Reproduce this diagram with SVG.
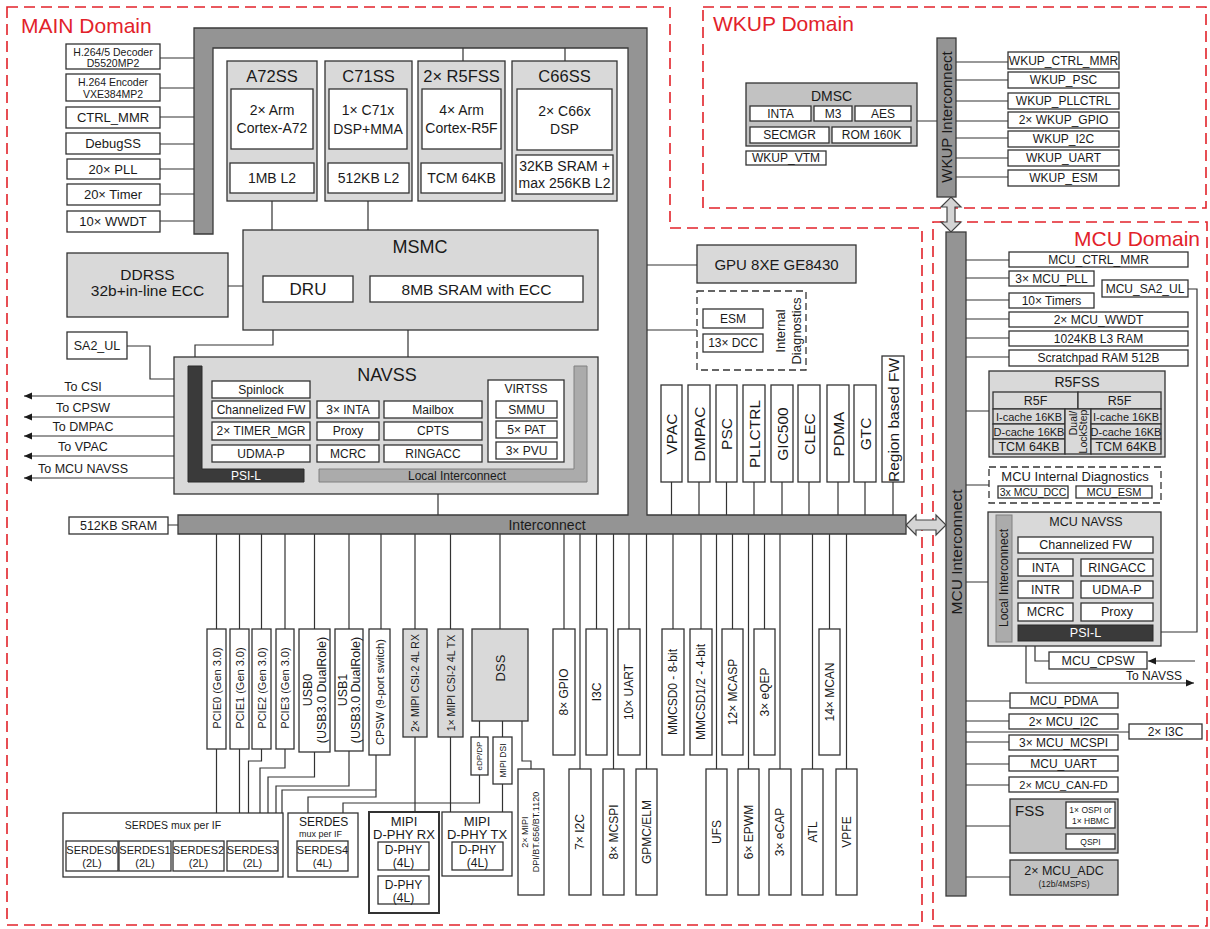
<svg xmlns="http://www.w3.org/2000/svg" width="1210" height="929" viewBox="0 0 1210 929">
<defs>
<style>
text{font-family:"Liberation Sans",Arial,sans-serif;fill:#1a1a1a;text-anchor:middle;dominant-baseline:central;font-size:12px}
.w{fill:#fff;stroke:#333;stroke-width:1.3}
.g{fill:#d9d9d9;stroke:#333;stroke-width:1.3}
.m{fill:#c2c2c2;stroke:#333;stroke-width:1.3}
.d{fill:#949494;stroke:#3a3a3a;stroke-width:1.3}
.k{fill:#3a3a3a;stroke:#2a2a2a;stroke-width:1}
.li{fill:#ababab;stroke:#808080;stroke-width:1}
.dom{fill:none;stroke:#e2222a;stroke-width:1.6;stroke-dasharray:11 6}
.dl{fill:none;stroke:#333;stroke-width:1.3;stroke-dasharray:7 4}
.ln{fill:none;stroke:#333;stroke-width:1.2}
.arr{fill:#d4d4d4;stroke:#444;stroke-width:1.2}
.dt{fill:#e2222a;font-size:21px;text-anchor:start}
.wt{fill:#fff}
.t10{font-size:10.5px}.t11{font-size:11px}.t12{font-size:12.5px}.t13{font-size:13px}.t14{font-size:14px}.t15{font-size:15px}.t16{font-size:16.5px}.t18{font-size:18px}.t9{font-size:9px}.t8{font-size:8.5px}
</style>
<marker id="ah" viewBox="0 0 10 10" refX="10" refY="5" markerUnits="userSpaceOnUse" markerWidth="9" markerHeight="8" orient="auto"><path d="M0,0.5 L10,5 L0,9.5 Z" fill="#1a1a1a"/></marker>
</defs>

<!-- Domains -->
<g id="domains">
<path class="dom" d="M7,7 H670 V228 H922 V925 H7 Z"/>
<rect class="dom" x="703" y="7" width="503" height="201"/>
<rect class="dom" x="933" y="222" width="274" height="704"/>
<text class="dt" x="21" y="25">MAIN Domain</text>
<text class="dt" x="713" y="23">WKUP Domain</text>
<text class="dt" x="1074" y="238">MCU Domain</text>
</g>

<!-- Connectors -->
<g id="connectors">
<path class="ln" d="M160,58 H194 M160,88 H194 M160,117 H194 M160,144 H194 M160,169 H194 M160,194 H194 M160,221 H194"/>
<path class="ln" d="M463,48 V61 M565,48 V61 M272,201 V230 M368,201 V230"/>
<path class="ln" d="M228,286 H243 M408,330 V357 M273,330 V345 H195 V366 M127,346 H150 V379 H188"/>
<path class="ln" d="M304,476 H319 M438,482 V515 M168,525 H178"/>
<path class="ln" marker-end="url(#ah)" d="M188,396 H24"/>
<path class="ln" marker-end="url(#ah)" d="M188,417 H24"/>
<path class="ln" marker-end="url(#ah)" d="M188,436 H24"/>
<path class="ln" marker-end="url(#ah)" d="M188,456 H24"/>
<path class="ln" marker-end="url(#ah)" d="M188,478 H24"/>
<path class="ln" d="M647,265 H697 M647,330 H697"/>
<path class="ln" d="M671.5,482 V515 M699,482 V515 M726.5,482 V515 M754,482 V515 M782,482 V515 M809,482 V515 M838,482 V515 M865,482 V515 M893,482 V515"/>
<path class="ln" d="M216.5,534 V629 M239.5,534 V629 M261.5,534 V629 M285,534 V629 M314.5,534 V629 M349,534 V629 M381,534 V629 M415,534 V629 M450.5,534 V629 M500,534 V629 M564,534 V629 M596.5,534 V629 M580,534 V769 M613.5,534 V769 M629,534 V629 M646.5,534 V769 M673,534 V629 M701,534 V629 M716.5,534 V769 M732.5,534 V629 M748.5,534 V769 M764.5,534 V629 M780,534 V769 M812.5,534 V769 M829.5,534 V629 M846.5,534 V769"/>
<path class="ln" d="M216.5,749 V813 M239.5,749 V813 M261.5,749 V761 H248.5 V813 M285,749 V768 H260 V813 M314.5,752 V777 H268 V813 M349,751 V786 H276 V813 M376,755 V797 H308 V813 M376,790 H282 V813"/>
<path class="ln" d="M415,737 V812 M450.5,737 V812 M502.5,784 V812 M479.5,775 V803 H343 V813 M479.5,721 V737 M502.5,721 V737 M522,721 V761 H531 V769"/>
<path class="ln" d="M917,121 H937 M956,62 H1008 M956,80 H1008 M956,101 H1008 M956,121 H1008 M956,138 H1008 M956,158 H1008 M956,177 H1008"/>
<path class="ln" d="M966,260 H1009 M966,278 H1009 M966,300 H1009 M966,319 H1009 M966,338 H1009 M966,357 H1009 M966,411 H989 M966,485 H989 M966,582 H996 M966,701 H1010 M966,721 H1009 M966,732 H1129 M966,742 H1009 M966,764 H1009 M966,785 H1009 M966,826 H1010 M966,877 H1010"/>
<path class="ln" d="M1188,289 H1197 V632 H1153 M1035,641 V661 H1049"/>
<path class="ln" marker-end="url(#ah)" d="M1195,661 H1148"/>
<path class="ln" marker-end="url(#ah)" d="M1026,641 V683 H1194"/>
<path class="arr" d="M906,525 L916,515 L916,520 L936,520 L936,515 L946,525 L936,535 L936,530 L916,530 L916,535 Z"/>
<path class="arr" d="M951,197 L961,207 L955,207 L955,222 L961,222 L951,232 L941,222 L947,222 L947,207 L941,207 Z"/>
</g>

<!-- Main interconnect frame -->
<g id="main-interconnect">
<path class="d" d="M194,28 H647 V515 H906 V534 H178 V515 H628 V48 H213 V234 H194 Z"/>
<text class="t14" x="547" y="525">Interconnect</text>
</g>

<!-- Left peripherals -->
<g id="dec"><rect class="w" x="66" y="44" width="94" height="25"/><text class="t10" x="113" y="51.5">H.264/5 Decoder</text><text class="t10" x="113" y="63">D5520MP2</text></g>
<g id="enc"><rect class="w" x="66" y="74" width="94" height="27"/><text class="t10" x="113" y="82">H.264 Encoder</text><text class="t10" x="113" y="94">VXE384MP2</text></g>
<g id="ctrl-mmr"><rect class="w" x="66" y="107" width="94" height="21"/><text class="t13" x="113" y="117.5">CTRL_MMR</text></g>
<g id="debugss"><rect class="w" x="66" y="133" width="94" height="21"/><text class="t13" x="113" y="143.5">DebugSS</text></g>
<g id="pll"><rect class="w" x="67" y="159" width="93" height="20"/><text class="t13" x="113" y="169">20× PLL</text></g>
<g id="timer"><rect class="w" x="67" y="184" width="93" height="21"/><text class="t13" x="113" y="194.5">20× Timer</text></g>
<g id="wwdt"><rect class="w" x="67" y="211" width="93" height="21"/><text class="t13" x="113" y="221.5">10× WWDT</text></g>

<!-- Cores -->
<g id="a72ss"><rect class="g" x="227" y="61" width="90" height="140"/><text class="t16" x="272" y="76">A72SS</text>
<rect class="w" x="231" y="89" width="82" height="60"/><text class="t14" x="272" y="110">2× Arm</text><text class="t14" x="272" y="128">Cortex-A72</text>
<rect class="w" x="230" y="163" width="84" height="30"/><text class="t14" x="272" y="178">1MB L2</text></g>
<g id="c71ss"><rect class="g" x="325" y="61" width="87" height="140"/><text class="t16" x="368.5" y="76">C71SS</text>
<rect class="w" x="329" y="89" width="78" height="60"/><text class="t14" x="368" y="110">1× C71x</text><text class="t14" x="368" y="129">DSP+MMA</text>
<rect class="w" x="328" y="163" width="81" height="30"/><text class="t14" x="368.5" y="178">512KB L2</text></g>
<g id="r5fss"><rect class="g" x="418" y="61" width="87" height="140"/><text class="t16" x="461.5" y="76">2× R5FSS</text>
<rect class="w" x="422" y="89" width="79" height="60"/><text class="t14" x="461.5" y="110">4× Arm</text><text class="t14" x="461.5" y="128">Cortex-R5F</text>
<rect class="w" x="421" y="163" width="81" height="30"/><text class="t14" x="461.5" y="178">TCM 64KB</text></g>
<g id="c66ss"><rect class="g" x="512" y="61" width="105" height="140"/><text class="t16" x="564.5" y="76">C66SS</text>
<rect class="w" x="517" y="89" width="95" height="61"/><text class="t14" x="564.5" y="111">2× C66x</text><text class="t14" x="564.5" y="129">DSP</text>
<rect class="w" x="516" y="155" width="97" height="39"/><text class="t14" x="564.5" y="166">32KB SRAM +</text><text class="t14" x="564.5" y="183">max 256KB L2</text></g>

<g id="msmc"><rect class="g" x="243" y="230" width="355" height="100"/><text class="t18" x="420" y="247">MSMC</text>
<rect class="w" x="263" y="276" width="90" height="26"/><text x="308" y="289" style="font-size:17px">DRU</text>
<rect class="w" x="370" y="276" width="213" height="26"/><text x="476.5" y="289" style="font-size:15.5px">8MB SRAM with ECC</text></g>

<g id="ddrss"><rect class="g" x="67" y="253" width="161" height="64"/><text x="147.5" y="274" style="font-size:15.5px">DDRSS</text><text x="147.5" y="290" style="font-size:15.5px">32b+in-line ECC</text></g>
<g id="sa2ul"><rect class="w" x="67" y="332" width="60" height="27"/><text class="t12" x="97" y="345.5">SA2_UL</text></g>

<g id="navss"><rect class="g" x="174" y="357" width="424" height="137"/><text class="t18" x="387" y="375">NAVSS</text>
<path class="k" d="M188,366 H202 V469 H304 V482 H188 Z"/><text class="wt" x="246" y="476">PSI-L</text>
<path class="li" d="M574,366 H587 V482 H319 V469 H574 Z"/><text x="457" y="476">Local Interconnect</text>
<rect class="w" x="212" y="381" width="98" height="17"/><text x="261" y="389.5">Spinlock</text>
<rect class="w" x="212" y="401" width="98" height="17"/><text x="261" y="409.5">Channelized FW</text>
<rect class="w" x="212" y="422" width="98" height="18"/><text x="261" y="431">2× TIMER_MGR</text>
<rect class="w" x="212" y="445" width="98" height="17"/><text x="261" y="453.5">UDMA-P</text>
<rect class="w" x="317" y="401" width="62" height="17"/><text x="348" y="409.5">3× INTA</text>
<rect class="w" x="317" y="422" width="62" height="18"/><text x="348" y="431">Proxy</text>
<rect class="w" x="317" y="445" width="62" height="17"/><text x="348" y="453.5">MCRC</text>
<rect class="w" x="384" y="401" width="98" height="17"/><text x="433" y="409.5">Mailbox</text>
<rect class="w" x="384" y="422" width="98" height="18"/><text x="433" y="431">CPTS</text>
<rect class="w" x="384" y="445" width="98" height="17"/><text x="433" y="453.5">RINGACC</text>
<rect class="w" x="488" y="380" width="76" height="82"/><text x="526" y="389">VIRTSS</text>
<rect class="w" x="496" y="401" width="61" height="17"/><text x="526.5" y="409.5">SMMU</text>
<rect class="w" x="496" y="421" width="61" height="17"/><text x="526.5" y="429.5">5× PAT</text>
<rect class="w" x="496" y="442" width="61" height="17"/><text x="526.5" y="450.5">3× PVU</text>
</g>

<g id="to-labels">
<text class="t12" x="83" y="387">To CSI</text>
<text class="t12" x="83" y="408">To CPSW</text>
<text class="t12" x="83" y="427">To DMPAC</text>
<text class="t12" x="83" y="447">To VPAC</text>
<text class="t12" x="83" y="469">To MCU NAVSS</text>
</g>

<g id="sram512"><rect class="w" x="69" y="517" width="99" height="17"/><text class="t12" x="118.5" y="525.5">512KB SRAM</text></g>

<g id="gpu"><rect class="g" x="697" y="245" width="159" height="38"/><text class="t15" x="776.5" y="264">GPU 8XE GE8430</text></g>
<g id="int-diag"><rect class="dl" x="697" y="291" width="109" height="79"/>
<rect class="w" x="703" y="309" width="60" height="19"/><text x="733" y="318.5">ESM</text>
<rect class="w" x="703" y="334" width="60" height="18"/><text x="733" y="343">13× DCC</text>
<text class="t13" x="780" y="331" transform="rotate(-90 780 331)">Internal</text>
<text class="t13" x="796" y="331" transform="rotate(-90 796 331)">Diagnostics</text></g>

<g id="vpac"><rect class="w" x="661" y="385" width="21" height="97"/><text style="font-size:15.5px" x="671.5" y="434" transform="rotate(-90 671.5 434)">VPAC</text></g>
<g id="dmpac"><rect class="w" x="688" y="385" width="22" height="97"/><text style="font-size:15.5px" x="699" y="434" transform="rotate(-90 699 434)">DMPAC</text></g>
<g id="psc"><rect class="w" x="716" y="385" width="21" height="97"/><text style="font-size:15.5px" x="726.5" y="434" transform="rotate(-90 726.5 434)">PSC</text></g>
<g id="pllctrl"><rect class="w" x="743" y="385" width="22" height="97"/><text style="font-size:15.5px" x="754" y="434" transform="rotate(-90 754 434)">PLLCTRL</text></g>
<g id="gic500"><rect class="w" x="771" y="385" width="22" height="97"/><text style="font-size:15.5px" x="782" y="434" transform="rotate(-90 782 434)">GIC500</text></g>
<g id="clec"><rect class="w" x="798" y="385" width="22" height="97"/><text style="font-size:15.5px" x="809" y="434" transform="rotate(-90 809 434)">CLEC</text></g>
<g id="pdma"><rect class="w" x="827" y="385" width="22" height="97"/><text style="font-size:15.5px" x="838" y="434" transform="rotate(-90 838 434)">PDMA</text></g>
<g id="gtc"><rect class="w" x="854" y="385" width="22" height="97"/><text style="font-size:15.5px" x="865" y="434" transform="rotate(-90 865 434)">GTC</text></g>
<g id="region-fw"><rect class="w" x="882" y="356" width="22" height="126"/><text style="font-size:15.5px" x="893" y="420" transform="rotate(-90 893 420)">Region based FW</text></g>

<!-- Bottom peripherals -->
<g id="pcie0"><rect class="w" x="207" y="629" width="19" height="120"/><text class="t11" x="216.5" y="688" transform="rotate(-90 216.5 688)">PCIE0 (Gen 3.0)</text></g>
<g id="pcie1"><rect class="w" x="230" y="629" width="19" height="120"/><text class="t11" x="239.5" y="688" transform="rotate(-90 239.5 688)">PCIE1 (Gen 3.0)</text></g>
<g id="pcie2"><rect class="w" x="252" y="629" width="19" height="120"/><text class="t11" x="261.5" y="688" transform="rotate(-90 261.5 688)">PCIE2 (Gen 3.0)</text></g>
<g id="pcie3"><rect class="w" x="276" y="629" width="18" height="120"/><text class="t11" x="285" y="688" transform="rotate(-90 285 688)">PCIE3 (Gen 3.0)</text></g>
<g id="usb0"><rect class="w" x="299" y="629" width="31" height="123"/><text class="t12" x="308" y="690" transform="rotate(-90 308 690)">USB0</text><text class="t12" x="322" y="690" transform="rotate(-90 322 690)">(USB3.0 DualRole)</text></g>
<g id="usb1"><rect class="w" x="335" y="629" width="28" height="122"/><text class="t12" x="343" y="690" transform="rotate(-90 343 690)">USB1</text><text class="t12" x="356" y="690" transform="rotate(-90 356 690)">(USB3.0 DualRole)</text></g>
<g id="cpsw"><rect class="w" x="369" y="629" width="21" height="126"/><text class="t11" x="379.5" y="692" transform="rotate(-90 379.5 692)">CPSW (9-port switch)</text></g>
<g id="csi-rx"><rect class="g" x="403" y="629" width="24" height="108"/><text class="t10" x="415" y="683" transform="rotate(-90 415 683)">2× MIPI CSI-2 4L RX</text></g>
<g id="csi-tx"><rect class="g" x="438" y="629" width="25" height="108"/><text class="t10" x="450.5" y="683" transform="rotate(-90 450.5 683)">1× MIPI CSI-2 4L TX</text></g>
<g id="dss"><rect class="g" x="472" y="629" width="56" height="92"/><text class="t13" x="500" y="668" transform="rotate(-90 500 668)">DSS</text></g>
<g id="edp"><rect class="w" x="471" y="737" width="17" height="38"/><text style="font-size:8px" x="479.5" y="756" transform="rotate(-90 479.5 756)">eDP/DP</text></g>
<g id="dsi"><rect class="w" x="493" y="737" width="19" height="47"/><text class="t8" x="502.5" y="760.5" transform="rotate(-90 502.5 760.5)">MIPI DSI</text></g>
<g id="dpi"><rect class="w" x="518" y="769" width="26" height="126"/><text class="t9" x="525" y="832" transform="rotate(-90 525 832)">2× MIPI</text><text class="t9" x="535.5" y="832" transform="rotate(-90 535.5 832)">DPI/BT.656/BT.1120</text></g>
<g id="gpio"><rect class="w" x="553" y="629" width="22" height="126"/><text x="564" y="692" transform="rotate(-90 564 692)">8× GPIO</text></g>
<g id="i3c"><rect class="w" x="586" y="629" width="21" height="126"/><text x="596.5" y="692" transform="rotate(-90 596.5 692)">I3C</text></g>
<g id="i2c"><rect class="w" x="569" y="769" width="22" height="126"/><text x="580" y="832" transform="rotate(-90 580 832)">7× I2C</text></g>
<g id="mcspi"><rect class="w" x="603" y="769" width="21" height="126"/><text x="613.5" y="832" transform="rotate(-90 613.5 832)">8× MCSPI</text></g>
<g id="uart"><rect class="w" x="618" y="629" width="22" height="126"/><text x="629" y="692" transform="rotate(-90 629 692)">10× UART</text></g>
<g id="gpmc"><rect class="w" x="636" y="769" width="21" height="126"/><text x="646.5" y="832" transform="rotate(-90 646.5 832)">GPMC/ELM</text></g>
<g id="mmcsd0"><rect class="w" x="662" y="629" width="22" height="126"/><text x="673" y="692" transform="rotate(-90 673 692)">MMCSD0 - 8-bit</text></g>
<g id="mmcsd12"><rect class="w" x="690" y="629" width="22" height="126"/><text x="701" y="692" transform="rotate(-90 701 692)">MMCSD1/2 - 4-bit</text></g>
<g id="mcasp"><rect class="w" x="722" y="629" width="21" height="126"/><text x="732.5" y="692" transform="rotate(-90 732.5 692)">12× MCASP</text></g>
<g id="eqep"><rect class="w" x="754" y="629" width="21" height="126"/><text x="764.5" y="692" transform="rotate(-90 764.5 692)">3× eQEP</text></g>
<g id="mcan"><rect class="w" x="819" y="629" width="21" height="126"/><text x="829.5" y="692" transform="rotate(-90 829.5 692)">14× MCAN</text></g>
<g id="ufs"><rect class="w" x="706" y="769" width="21" height="126"/><text x="716.5" y="832" transform="rotate(-90 716.5 832)">UFS</text></g>
<g id="epwm"><rect class="w" x="738" y="769" width="21" height="126"/><text x="748.5" y="832" transform="rotate(-90 748.5 832)">6× EPWM</text></g>
<g id="ecap"><rect class="w" x="769" y="769" width="22" height="126"/><text x="780" y="832" transform="rotate(-90 780 832)">3× eCAP</text></g>
<g id="atl"><rect class="w" x="802" y="769" width="21" height="126"/><text x="812.5" y="832" transform="rotate(-90 812.5 832)">ATL</text></g>
<g id="vpfe"><rect class="w" x="836" y="769" width="21" height="126"/><text x="846.5" y="832" transform="rotate(-90 846.5 832)">VPFE</text></g>

<g id="serdes-mux"><rect class="w" x="63" y="813" width="220" height="64"/><text class="t10" x="173" y="825">SERDES mux per IF</text>
<rect class="w" x="66" y="841" width="52" height="30"/><text class="t11" x="92" y="849.5">SERDES0</text><text class="t11" x="92" y="863">(2L)</text>
<rect class="w" x="119" y="841" width="52" height="30"/><text class="t11" x="145" y="849.5">SERDES1</text><text class="t11" x="145" y="863">(2L)</text>
<rect class="w" x="173" y="841" width="51" height="30"/><text class="t11" x="198.5" y="849.5">SERDES2</text><text class="t11" x="198.5" y="863">(2L)</text>
<rect class="w" x="227" y="841" width="51" height="30"/><text class="t11" x="252.5" y="849.5">SERDES3</text><text class="t11" x="252.5" y="863">(2L)</text></g>
<g id="serdes4"><rect class="w" x="288" y="813" width="70" height="64"/><text x="299" y="822" style="font-size:12px;text-anchor:start">SERDES</text><text class="t9" x="299" y="834" style="text-anchor:start">mux per IF</text>
<rect class="w" x="297" y="841" width="51" height="30"/><text class="t11" x="322.5" y="849.5">SERDES4</text><text class="t11" x="322.5" y="863">(4L)</text></g>
<g id="dphy-rx"><rect class="w" x="369" y="812" width="70" height="101" style="stroke-width:2"/><text class="t13" x="404" y="821">MIPI</text><text class="t13" x="404" y="834">D-PHY RX</text>
<rect class="w" x="378" y="842" width="51" height="28"/><text x="403.5" y="850">D-PHY</text><text x="403.5" y="863">(4L)</text>
<rect class="w" x="378" y="876" width="51" height="28"/><text x="403.5" y="884.5">D-PHY</text><text x="403.5" y="897.5">(4L)</text></g>
<g id="dphy-tx"><rect class="w" x="442" y="812" width="70" height="64"/><text class="t13" x="477" y="821">MIPI</text><text class="t13" x="477" y="834">D-PHY TX</text>
<rect class="w" x="452" y="842" width="51" height="28"/><text x="477.5" y="850">D-PHY</text><text x="477.5" y="863">(4L)</text></g>

<!-- WKUP domain -->
<g id="wkup-interconnect"><rect class="d" x="937" y="38" width="19" height="159"/><text x="946.5" y="117" style="font-size:15px" transform="rotate(-90 946.5 117)">WKUP Interconnect</text></g>
<g id="dmsc"><rect class="m" x="746" y="83" width="171" height="63"/><text class="t14" x="831.5" y="96">DMSC</text>
<rect class="w" x="750" y="106" width="61" height="15"/><text x="780.5" y="113.5">INTA</text>
<rect class="w" x="814" y="106" width="38" height="15"/><text x="833" y="113.5">M3</text>
<rect class="w" x="855" y="106" width="56" height="15"/><text x="883" y="113.5">AES</text>
<rect class="w" x="750" y="127" width="79" height="16"/><text x="789.5" y="135">SECMGR</text>
<rect class="w" x="832" y="127" width="79" height="16"/><text x="871.5" y="135">ROM 160K</text></g>
<g id="wkup-vtm"><rect class="w" x="746" y="151" width="80" height="14"/><text x="786" y="158">WKUP_VTM</text></g>
<g id="wkup-ctrl"><rect class="w" x="1008" y="52" width="111" height="17"/><text x="1063.5" y="60.5">WKUP_CTRL_MMR</text></g>
<g id="wkup-psc"><rect class="w" x="1008" y="72" width="111" height="16"/><text x="1063.5" y="80">WKUP_PSC</text></g>
<g id="wkup-pll"><rect class="w" x="1008" y="93" width="111" height="16"/><text x="1063.5" y="101">WKUP_PLLCTRL</text></g>
<g id="wkup-gpio"><rect class="w" x="1008" y="112" width="111" height="16"/><text x="1063.5" y="120">2× WKUP_GPIO</text></g>
<g id="wkup-i2c"><rect class="w" x="1008" y="131" width="111" height="16"/><text x="1063.5" y="139">WKUP_I2C</text></g>
<g id="wkup-uart"><rect class="w" x="1008" y="150" width="111" height="16"/><text x="1063.5" y="158">WKUP_UART</text></g>
<g id="wkup-esm"><rect class="w" x="1008" y="170" width="111" height="16"/><text x="1063.5" y="178">WKUP_ESM</text></g>

<!-- MCU domain -->
<g id="mcu-interconnect"><rect class="d" x="946" y="232" width="20" height="664"/><text x="956" y="552" style="font-size:15.5px" transform="rotate(-90 956 552)">MCU Interconnect</text></g>
<g id="mcu-ctrl"><rect class="w" x="1009" y="252" width="179" height="15"/><text x="1098.5" y="259.5">MCU_CTRL_MMR</text></g>
<g id="mcu-pll"><rect class="w" x="1009" y="271" width="85" height="15"/><text x="1051.5" y="278.5">3× MCU_PLL</text></g>
<g id="mcu-sa2"><rect class="w" x="1102" y="280" width="86" height="17"/><text x="1145" y="288.5">MCU_SA2_UL</text></g>
<g id="mcu-timers"><rect class="w" x="1009" y="293" width="85" height="15"/><text x="1051.5" y="300.5">10× Timers</text></g>
<g id="mcu-wwdt"><rect class="w" x="1009" y="312" width="179" height="15"/><text x="1098.5" y="319.5">2× MCU_WWDT</text></g>
<g id="mcu-l3"><rect class="w" x="1009" y="331" width="179" height="15"/><text x="1098.5" y="338.5">1024KB L3 RAM</text></g>
<g id="mcu-scratch"><rect class="w" x="1009" y="350" width="179" height="16"/><text x="1098.5" y="358">Scratchpad RAM 512B</text></g>
<g id="mcu-r5fss"><rect class="g" x="989" y="371" width="176" height="86"/><text class="t14" x="1077" y="382">R5FSS</text>
<rect class="g" x="993" y="392" width="85" height="17"/><text class="t12" x="1035.5" y="400.5">R5F</text>
<rect class="g" x="1078" y="392" width="83" height="17"/><text class="t12" x="1119.5" y="400.5">R5F</text>
<rect class="g" x="993" y="409" width="72" height="15"/><text class="t11" x="1029" y="416.5">I-cache 16KB</text>
<rect class="g" x="993" y="424" width="72" height="15"/><text class="t11" x="1029" y="431.5">D-cache 16KB</text>
<rect class="g" x="993" y="439" width="72" height="15"/><text class="t12" x="1029" y="446.5">TCM 64KB</text>
<rect class="g" x="1065" y="409" width="26" height="45"/><text class="t10" x="1073" y="423" transform="rotate(-90 1073 423)">Dual/</text><text class="t10" x="1083" y="431.5" transform="rotate(-90 1083 431.5)">LockStep</text>
<rect class="g" x="1091" y="409" width="70" height="15"/><text class="t11" x="1126" y="416.5">I-cache 16KB</text>
<rect class="g" x="1091" y="424" width="70" height="15"/><text class="t11" x="1126" y="431.5">D-cache 16KB</text>
<rect class="g" x="1091" y="439" width="70" height="15"/><text class="t12" x="1126" y="446.5">TCM 64KB</text></g>
<g id="mcu-diag"><rect class="dl" x="989" y="467" width="172" height="36"/><text class="t13" x="1075" y="476">MCU Internal Diagnostics</text>
<rect class="w" x="998" y="486" width="70" height="12"/><text class="t10" x="1033" y="492">3x MCU_DCC</text>
<rect class="w" x="1076" y="486" width="76" height="12"/><text class="t11" x="1114" y="492">MCU_ESM</text></g>
<g id="mcu-navss"><rect class="g" x="988" y="512" width="173" height="134"/><text class="t12" x="1086" y="522">MCU NAVSS</text>
<rect class="li" x="996" y="515" width="16" height="127"/><text x="1004" y="578" transform="rotate(-90 1004 578)">Local Interconnect</text>
<rect class="w" x="1018" y="537" width="135" height="16"/><text class="t12" x="1085.5" y="545">Channelized FW</text>
<rect class="w" x="1018" y="559" width="55" height="17"/><text class="t12" x="1045.5" y="567.5">INTA</text>
<rect class="w" x="1081" y="559" width="72" height="17"/><text class="t12" x="1117" y="567.5">RINGACC</text>
<rect class="w" x="1018" y="581" width="55" height="17"/><text class="t12" x="1045.5" y="589.5">INTR</text>
<rect class="w" x="1081" y="581" width="72" height="17"/><text class="t12" x="1117" y="589.5">UDMA-P</text>
<rect class="w" x="1018" y="603" width="55" height="18"/><text class="t12" x="1045.5" y="612">MCRC</text>
<rect class="w" x="1081" y="603" width="72" height="18"/><text class="t12" x="1117" y="612">Proxy</text>
<rect class="k" x="1018" y="625" width="135" height="16"/><text class="t12 wt" x="1085.5" y="633">PSI-L</text></g>
<g id="mcu-cpsw"><rect class="w" x="1049" y="652" width="98" height="17"/><text class="t12" x="1098" y="660.5">MCU_CPSW</text></g>
<text id="to-navss" x="1154" y="676">To NAVSS</text>
<g id="mcu-pdma"><rect class="w" x="1010" y="693" width="108" height="15"/><text x="1064" y="700.5">MCU_PDMA</text></g>
<g id="mcu-i2c"><rect class="w" x="1009" y="714" width="109" height="15"/><text x="1063.5" y="721.5">2× MCU_I2C</text></g>
<g id="mcu-i3c"><rect class="w" x="1129" y="724" width="73" height="15"/><text x="1165.5" y="731.5">2× I3C</text></g>
<g id="mcu-mcspi"><rect class="w" x="1009" y="735" width="109" height="15"/><text x="1063.5" y="742.5">3× MCU_MCSPI</text></g>
<g id="mcu-uart"><rect class="w" x="1009" y="756" width="109" height="15"/><text x="1063.5" y="763.5">MCU_UART</text></g>
<g id="mcu-can"><rect class="w" x="1009" y="777" width="109" height="15"/><text class="t11" x="1063.5" y="784.5">2× MCU_CAN-FD</text></g>
<g id="mcu-fss"><rect class="m" x="1010" y="799" width="108" height="54"/><text class="t15" x="1015" y="810" style="text-anchor:start">FSS</text>
<rect class="w" x="1066" y="802" width="49" height="26"/><text class="t8" x="1090.5" y="809.5">1× OSPI or</text><text class="t8" x="1090.5" y="821">1× HBMC</text>
<rect class="w" x="1066" y="834" width="49" height="15"/><text class="t8" x="1090.5" y="841.5">QSPI</text></g>
<g id="mcu-adc"><rect class="m" x="1010" y="860" width="108" height="35"/><text class="t12" x="1064" y="871">2× MCU_ADC</text><text class="t8" x="1064" y="884">(12b/4MSPS)</text></g>
</svg>
